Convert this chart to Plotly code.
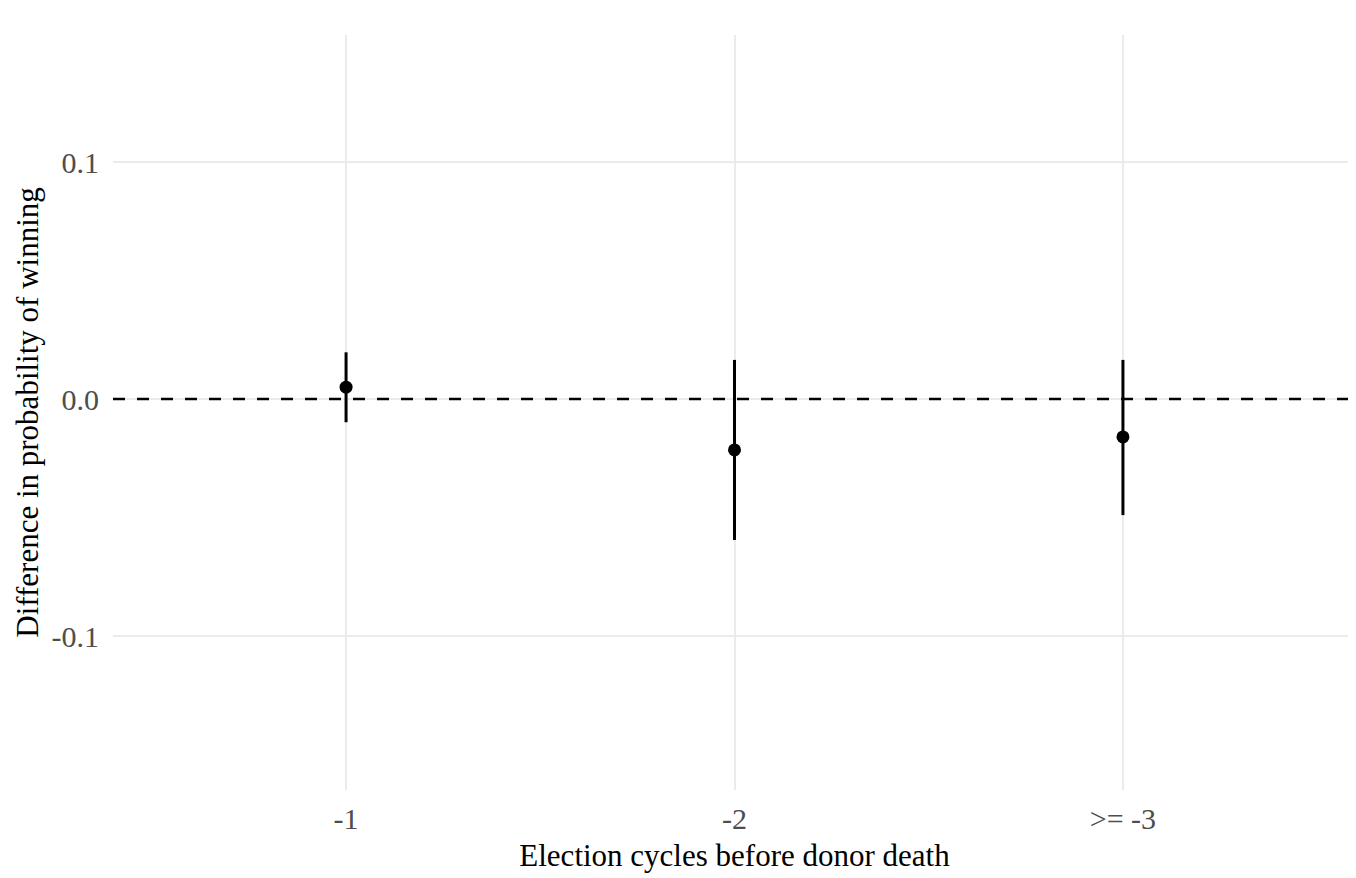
import plotly.graph_objects as go

categories = ["-1", "-2", ">= -3"]
estimates = [0.005, -0.0215, -0.016]
ci_upper = [0.0197, 0.0165, 0.0165]
ci_lower = [-0.0098, -0.0595, -0.049]
y_ticks = [0.1, 0.0, -0.1]
y_tick_labels = ["0.1", "0.0", "-0.1"]

err_plus = [u - e for u, e in zip(ci_upper, estimates)]
err_minus = [e - l for e, l in zip(estimates, ci_lower)]

fig = go.Figure()
fig.add_trace(go.Scatter(
    x=categories, y=estimates, mode="markers",
    marker=dict(color="black", size=13),
    error_y=dict(type="data", symmetric=False, array=err_plus, arrayminus=err_minus,
                 color="black", thickness=3, width=0),
    showlegend=False,
))
fig.add_shape(type="line", xref="paper", yref="y", x0=0, x1=1, y0=0, y1=0,
              line=dict(color="black", width=2.5, dash="12px,12px"), layer="above")

# page body has an 8px margin; compensate so the plot area lands where it should
fig.update_layout(
    width=1348, height=870,
    margin=dict(l=105, r=0, t=27, b=88),
    plot_bgcolor="white", paper_bgcolor="white",
    font=dict(family="Liberation Serif, Times New Roman, serif", color="black"),
    xaxis=dict(
        type="category", range=[-0.6, 2.6],
        showgrid=True, gridcolor="#EBEBEB", gridwidth=2,
        zeroline=False, showline=False, ticks="",
        tickfont=dict(size=30, color="#4D4D4D"), ticklabelstandoff=8,
        title=dict(text="Election cycles before donor death", font=dict(size=31, color="black"), standoff=10),
    ),
    yaxis=dict(
        range=[-0.16498, 0.15359],
        tickvals=y_ticks, ticktext=y_tick_labels,
        showgrid=True, gridcolor="#EBEBEB", gridwidth=2,
        zeroline=False, showline=False, ticks="",
        tickfont=dict(size=30, color="#4D4D4D"), ticklabelstandoff=13,
        title=dict(text="Difference in probability of winning", font=dict(size=31, color="black"), standoff=3),
    ),
)

fig.write_html("out.html")
